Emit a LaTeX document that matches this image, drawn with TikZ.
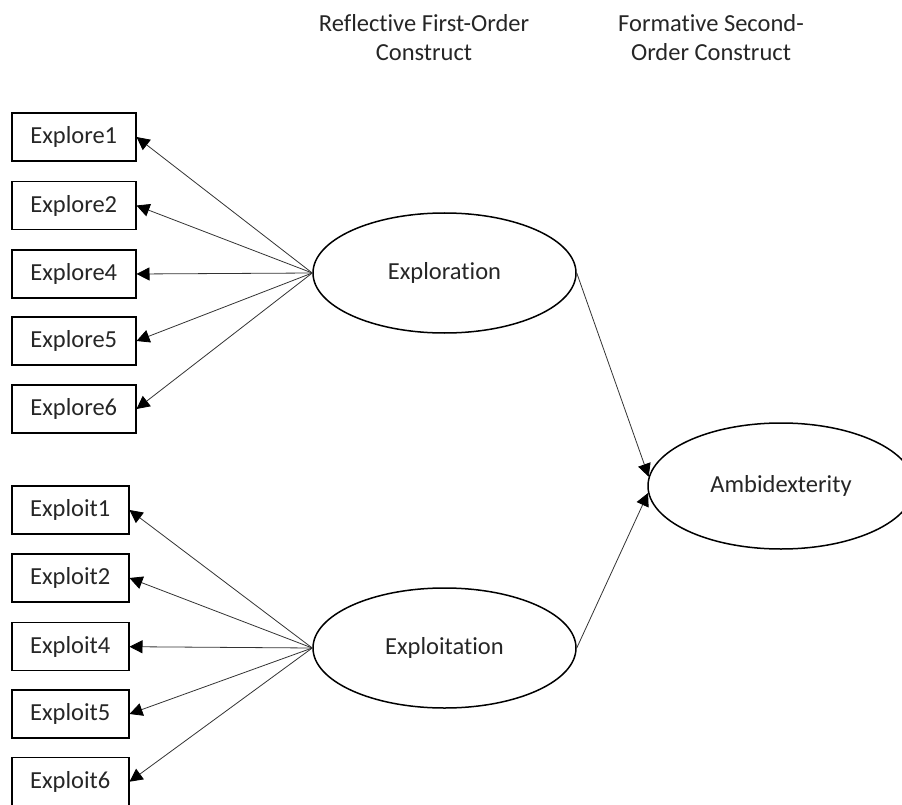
\documentclass[tikz,border=0pt]{standalone}
\usepackage{fontspec}
\setmainfont{Carlito}[RawFeature={-liga}]
\usetikzlibrary{arrows.meta,shapes.geometric}
\begin{document}
\begin{tikzpicture}[x=1pt,y=-1pt,
  every node/.style={font=\fontsize{24.5}{29}\selectfont, text=black!85},
  item/.style={draw=black, line width=1.5pt, minimum height=48pt, inner sep=0pt, anchor=west},
  construct/.style={draw=black, ellipse, line width=1.5pt, inner sep=0pt},
  load/.style={-{Triangle[length=13pt,width=13pt,color=black]}, line width=0.8pt, draw=black!80},
  heading/.style={align=center}]
\useasboundingbox (0,0) rectangle (902,805);

% column headings
\node[heading] (h1) at (424,37.5) {Reflective First-Order\\Construct};
\node[heading] (h2) at (711,37.5) {Formative Second-\\Order Construct};

% exploration indicators
\node[item, minimum width=124pt] (e1) at (11,137) {Explore1};
\node[item, minimum width=124pt] (e2) at (11,205.5) {Explore2};
\node[item, minimum width=124pt] (e4) at (11,274) {Explore4};
\node[item, minimum width=124pt] (e5) at (11,341) {Explore5};
\node[item, minimum width=124pt] (e6) at (11,409) {Explore6};

% exploitation indicators
\node[item, minimum width=117pt] (x1) at (11,510) {Exploit1};
\node[item, minimum width=117pt] (x2) at (11,578) {Exploit2};
\node[item, minimum width=117pt] (x4) at (11,646.7) {Exploit4};
\node[item, minimum width=117pt] (x5) at (11,714) {Exploit5};
\node[item, minimum width=117pt] (x6) at (11,781.7) {Exploit6};

% latent constructs
\node[construct, minimum width=263pt, minimum height=120pt] (explo) at (444.5,273) {Exploration};
\node[construct, minimum width=263pt, minimum height=120pt] (exploit) at (444.5,648) {Exploitation};
\node[construct, minimum width=266pt, minimum height=126pt] (amb) at (781,486) {Ambidexterity};

% reflective loadings
\foreach \t in {e1,e2,e4,e5,e6} \draw[load] (explo.west) -- (\t.east);
\foreach \t in {x1,x2,x4,x5,x6} \draw[load] (exploit.west) -- (\t.east);

% formative paths
\draw[load] (explo.east) -- (amb.176);
\draw[load] (exploit.east) -- (amb.183);
\end{tikzpicture}
\end{document}
